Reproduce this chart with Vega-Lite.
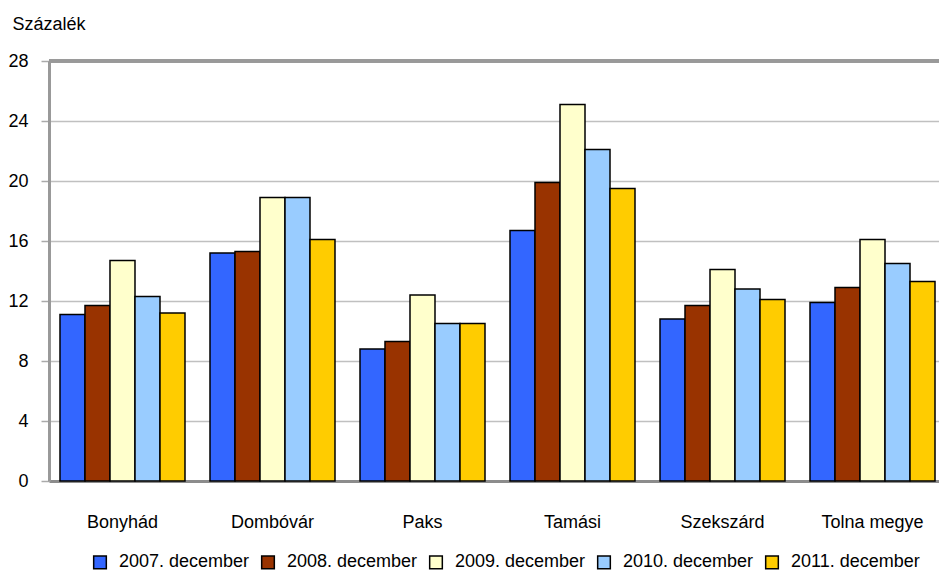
{
  "$schema": "https://vega.github.io/schema/vega-lite/v6.json",
  "width": 890,
  "height": 420,
  "autosize": {"type": "none"},
  "padding": {"left": 49, "top": 61, "right": 0, "bottom": 91},
  "background": "white",
  "config": {
    "view": {"stroke": null},
    "font": "Liberation Sans",
    "axis": {"labelFont": "Liberation Sans", "titleFont": "Liberation Sans", "labelColor": "#000", "titleColor": "#000"},
    "legend": {"labelFont": "Liberation Sans"}
  },
  "data": {
    "values": [
      {"telepules": "Bonyhád", "ev": "2007. december", "ertek": 11.1},
      {"telepules": "Bonyhád", "ev": "2008. december", "ertek": 11.7},
      {"telepules": "Bonyhád", "ev": "2009. december", "ertek": 14.7},
      {"telepules": "Bonyhád", "ev": "2010. december", "ertek": 12.3},
      {"telepules": "Bonyhád", "ev": "2011. december", "ertek": 11.2},
      {"telepules": "Dombóvár", "ev": "2007. december", "ertek": 15.2},
      {"telepules": "Dombóvár", "ev": "2008. december", "ertek": 15.3},
      {"telepules": "Dombóvár", "ev": "2009. december", "ertek": 18.9},
      {"telepules": "Dombóvár", "ev": "2010. december", "ertek": 18.9},
      {"telepules": "Dombóvár", "ev": "2011. december", "ertek": 16.1},
      {"telepules": "Paks", "ev": "2007. december", "ertek": 8.8},
      {"telepules": "Paks", "ev": "2008. december", "ertek": 9.3},
      {"telepules": "Paks", "ev": "2009. december", "ertek": 12.4},
      {"telepules": "Paks", "ev": "2010. december", "ertek": 10.5},
      {"telepules": "Paks", "ev": "2011. december", "ertek": 10.5},
      {"telepules": "Tamási", "ev": "2007. december", "ertek": 16.7},
      {"telepules": "Tamási", "ev": "2008. december", "ertek": 19.9},
      {"telepules": "Tamási", "ev": "2009. december", "ertek": 25.1},
      {"telepules": "Tamási", "ev": "2010. december", "ertek": 22.1},
      {"telepules": "Tamási", "ev": "2011. december", "ertek": 19.5},
      {"telepules": "Szekszárd", "ev": "2007. december", "ertek": 10.8},
      {"telepules": "Szekszárd", "ev": "2008. december", "ertek": 11.7},
      {"telepules": "Szekszárd", "ev": "2009. december", "ertek": 14.1},
      {"telepules": "Szekszárd", "ev": "2010. december", "ertek": 12.8},
      {"telepules": "Szekszárd", "ev": "2011. december", "ertek": 12.1},
      {"telepules": "Tolna megye", "ev": "2007. december", "ertek": 11.9},
      {"telepules": "Tolna megye", "ev": "2008. december", "ertek": 12.9},
      {"telepules": "Tolna megye", "ev": "2009. december", "ertek": 16.1},
      {"telepules": "Tolna megye", "ev": "2010. december", "ertek": 14.5},
      {"telepules": "Tolna megye", "ev": "2011. december", "ertek": 13.3}
    ]
  },
  "layer": [
    {
      "mark": {"type": "bar", "stroke": "#000", "strokeWidth": 1.5},
      "encoding": {
        "x": {
          "field": "telepules",
          "type": "nominal",
          "sort": null,
          "scale": {"range": [0, 897], "paddingInner": 0.1667, "paddingOuter": 0.0733},
          "axis": {
            "title": null,
            "labelAngle": 0,
            "labelFontSize": 18,
            "ticks": false,
            "tickSize": 0,
            "labelPadding": 46,
            "labelBaseline": "alphabetic",
            "domainColor": "#8c8c8c",
            "domainWidth": 3
          }
        },
        "xOffset": {"field": "ev", "type": "nominal", "sort": null, "scale": {"paddingInner": 0, "paddingOuter": 0}},
        "y": {
          "field": "ertek",
          "type": "quantitative",
          "scale": {"domain": [0, 28], "nice": false},
          "axis": {
            "values": [0, 4, 8, 12, 16, 20, 24, 28],
            "title": "Százalék",
            "titleAngle": 0,
            "titleX": -37,
            "titleY": -32,
            "titleAlign": "left",
            "titleBaseline": "alphabetic",
            "titleFontSize": 18,
            "titleFontWeight": "normal",
            "labelFontSize": 18,
            "labelBaseline": "alphabetic",
            "labelOffset": 5,
            "labelPadding": 13,
            "tickSize": 8,
            "tickColor": "#aaaaaa",
            "tickWidth": 1.5,
            "domainColor": "#999999",
            "domainWidth": 3,
            "grid": true,
            "gridColor": "#c0c0c0",
            "gridWidth": 1.5
          }
        },
        "color": {
          "field": "ev",
          "type": "nominal",
          "scale": {
            "domain": ["2007. december", "2008. december", "2009. december", "2010. december", "2011. december"],
            "range": ["#3366FF", "#993300", "#FFFFCC", "#99CCFF", "#FFCC00"]
          },
          "legend": {
            "title": null,
            "orient": "none",
            "direction": "horizontal",
            "legendX": 42,
            "legendY": 492,
            "padding": 0,
            "symbolType": "square",
            "symbolSize": 160,
            "symbolStrokeColor": "#000",
            "symbolStrokeWidth": 1.5,
            "symbolOpacity": 1,
            "labelFontSize": 18,
            "labelColor": "#000",
            "labelOffset": 10,
            "columnPadding": 8,
            "labelLimit": 300
          }
        }
      }
    },
    {
      "mark": {"type": "rule", "color": "#999999", "strokeWidth": 3},
      "encoding": {"y": {"datum": 28}}
    }
  ]
}
